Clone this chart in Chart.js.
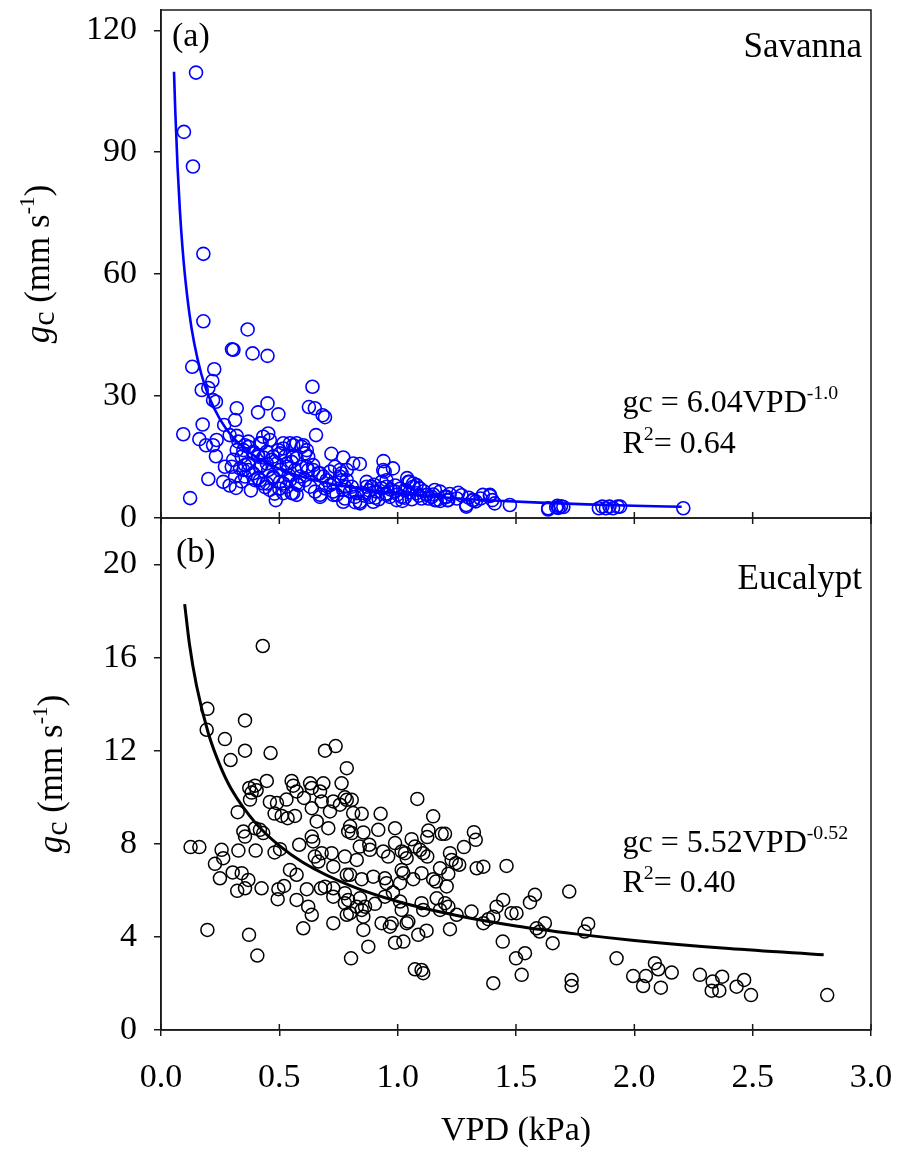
<!DOCTYPE html>
<html><head><meta charset="utf-8">
<script src="https://cdn.jsdelivr.net/npm/chart.js@4.4.0/dist/chart.umd.min.js"></script>
<style>html,body{margin:0;padding:0;background:#fff}canvas{display:block}</style>
</head><body>
<canvas id="c" width="898" height="1150"></canvas>
<script>
const FONT = '"Liberation Serif", "Times New Roman", serif';
const AXIS = '#1a1a1a';
const BLUE = '#0000ff';

// ---- tick values / labels ----
const xTicks = [0, 0.5, 1.0, 1.5, 2.0, 2.5, 3.0];
const xTickLabels = ['0.0', '0.5', '1.0', '1.5', '2.0', '2.5', '3.0'];
const topTicks = [0, 30, 60, 90, 120];
const botTicks = [0, 4, 8, 12, 16, 20];

// ---- panel (a) Savanna: [VPD, gc] ----
const savanna = [
[0.148,109.6],[0.097,95.0],[0.135,86.5],[0.179,65.0],[0.179,48.4],[0.366,46.4],[0.300,41.5],[0.306,41.4],
[0.387,40.5],[0.450,39.9],[0.640,32.3],[0.132,37.2],[0.225,36.6],[0.217,33.7],[0.172,31.5],[0.200,32.0],
[0.220,29.0],[0.232,28.6],[0.320,27.0],[0.450,28.2],[0.410,26.0],[0.496,25.5],[0.625,27.3],[0.650,27.0],
[0.683,25.3],[0.693,24.8],[0.094,20.6],[0.176,23.0],[0.162,19.4],[0.190,17.9],[0.220,17.9],[0.235,19.2],
[0.232,15.2],[0.270,12.6],[0.200,9.6],[0.263,8.9],[0.317,7.4],[0.123,4.9],[0.313,24.1],[0.267,22.9],
[0.485,4.4],[0.655,20.4],[0.320,20.2],[0.720,15.8],[0.770,14.9],[0.840,13.3],[0.940,14.0],[0.945,11.4],
[0.980,12.2],[1.040,9.8],[1.045,8.9],[1.066,8.5],[1.094,7.3],[1.157,6.9],[1.157,4.4],[1.214,4.4],
[1.256,6.2],[1.290,2.8],[1.320,4.4],[1.360,5.7],[1.390,5.4],[1.410,3.6],[1.400,4.4],[1.474,3.2],
[1.636,2.1],[1.670,2.6],[1.636,2.4],[1.675,3.0],[1.680,2.5],[1.690,2.9],[1.700,2.7],[1.850,2.4],
[1.865,2.8],[1.880,2.4],[1.895,2.8],[1.910,2.4],[1.930,2.8],[1.940,2.8],[2.207,2.4],
[0.290,20.4],[0.327,18.8],[0.355,17.9],[0.369,18.8],[0.432,20.0],[0.453,20.8],[0.460,19.2],[0.425,18.4],
[0.517,17.1],[0.545,18.4],[0.559,17.9],[0.601,17.9],[0.616,16.7],[0.622,15.1],[0.320,16.7],[0.341,15.1],
[0.305,14.3],[0.355,13.0],[0.334,12.2],[0.369,11.8],[0.390,16.3],[0.410,15.5],[0.432,14.9],[0.447,16.3],
[0.468,14.3],[0.489,13.4],[0.418,12.6],[0.453,11.8],[0.503,15.9],[0.524,15.1],[0.552,13.8],[0.573,14.7],
[0.594,12.6],[0.531,12.6],[0.566,11.8],[0.622,11.8],[0.643,13.0],[0.665,11.0],[0.686,10.2],[0.714,11.4],
[0.735,12.6],[0.756,11.8],[0.299,12.6],[0.313,10.2],[0.355,10.2],[0.390,11.0],[0.410,9.8],[0.432,8.5],
[0.474,9.8],[0.503,8.9],[0.531,7.7],[0.552,6.1],[0.573,5.7],[0.580,8.1],[0.460,6.9],[0.517,6.1],
[0.608,9.3],[0.630,7.7],[0.651,6.5],[0.672,5.7],[0.693,7.3],[0.714,8.1],[0.727,6.5],[0.742,5.7],
[0.763,9.3],[0.777,7.7],[0.799,6.5],[0.820,5.2],[0.770,4.0],[0.840,4.0],[0.855,6.1],[0.869,7.7],
[0.883,5.2],[0.897,4.0],[0.911,6.5],[0.932,7.3],[0.953,5.7],[0.939,11.8],[0.953,9.3],[0.763,11.0],
[0.785,9.3],[0.806,7.7],[0.827,6.1],[0.777,4.8],[0.820,3.9],[0.841,3.6],[0.869,8.9],[0.890,7.7],
[0.905,5.0],[0.932,8.9],[0.953,7.7],[0.967,5.2],[0.989,6.5],[0.996,4.4],[1.017,5.2],[1.031,6.9],
[1.066,7.7],[1.080,6.1],[1.101,4.8],[1.122,5.7],[1.144,5.2],[1.165,4.4],[1.179,6.5],[1.207,5.2],
[0.348,16.7],[0.369,17.5],[0.390,15.9],[0.418,18.4],[0.411,15.1],[0.369,13.4],[0.348,11.8],[0.425,13.0],
[0.447,13.4],[0.474,15.1],[0.496,16.7],[0.517,18.4],[0.573,18.4],[0.594,17.5],[0.608,15.9],[0.559,15.1],
[0.531,13.4],[0.503,11.8],[0.474,10.2],[0.447,8.5],[0.418,9.3],[0.397,9.3],[0.517,8.5],[0.545,9.3],
[0.573,8.5],[0.587,10.2],[0.616,12.6],[0.643,11.8],[0.672,11.0],[0.700,9.3],[0.728,8.5],[0.756,10.2],
[0.785,11.8],[0.812,13.4],[0.559,6.1],[0.672,5.2],[0.728,5.7],[0.770,6.9],[1.050,8.9],[1.080,8.1],
[1.200,5.2],[1.210,4.4],[1.290,3.2],[1.317,4.4],[1.390,5.7],
[0.860,5.5],[0.880,6.8],[0.900,8.2],[0.920,4.6],[0.950,6.0],[0.970,7.0],[0.990,8.0],[1.000,5.8],
[1.010,7.2],[1.020,4.2],[1.030,5.0],[1.050,6.3],[1.060,4.6],[1.090,5.5],[1.110,6.6],[1.130,4.8],
[1.150,5.8],[1.180,4.2],[1.220,5.9],[1.250,4.8],[1.270,5.6],[1.300,5.0],[1.330,4.1],[1.350,4.8],
[0.290,8.0],[0.340,9.0],[0.380,6.8],[0.440,7.6],[0.480,6.0],[0.500,7.2],[0.540,10.5]
];

// ---- panel (b) Eucalypt: [VPD, gc] ----
const eucalypt = [
[0.430,16.5],[0.196,13.8],[0.193,12.9],[0.355,13.3],[0.270,12.5],[0.355,12.0],[0.294,11.6],[0.463,11.9],
[0.693,12.0],[0.738,12.2],[0.785,11.25],[0.447,10.7],[0.373,10.4],[0.397,10.5],[0.404,10.3],[0.383,10.2],
[0.376,9.9],[0.552,10.7],[0.559,10.5],[0.573,10.25],[0.630,10.6],[0.637,10.4],[0.672,10.25],[0.686,10.6],
[0.763,10.6],[0.324,9.36],[0.460,9.8],[0.490,9.75],[0.530,9.9],[0.480,9.3],[0.510,9.2],[0.535,9.1],
[0.566,9.2],[0.604,9.97],[0.637,9.53],[0.658,8.96],[0.679,9.82],[0.707,8.67],[0.714,9.39],[0.728,9.82],
[0.756,9.68],[0.777,10.0],[0.785,9.89],[0.806,9.89],[0.791,8.53],[0.799,8.75],[0.812,9.32],[0.348,8.53],
[0.355,8.31],[0.397,8.67],[0.418,8.6],[0.432,8.46],[0.125,7.86],[0.162,7.86],[0.256,7.74],[0.263,7.38],
[0.228,7.14],[0.249,6.52],[0.327,7.71],[0.400,7.71],[0.480,7.63],[0.503,7.77],[0.584,7.96],[0.637,8.31],
[0.643,8.1],[0.650,7.45],[0.665,7.24],[0.679,7.6],[0.721,7.6],[0.728,7.02],[0.777,7.45],[0.785,6.67],
[0.799,6.67],[0.827,7.31],[0.303,6.77],[0.341,6.74],[0.369,6.45],[0.322,5.98],[0.355,6.09],[0.425,6.09],
[0.496,6.05],[0.520,6.19],[0.545,6.88],[0.573,6.67],[0.493,5.62],[0.573,5.59],[0.616,6.05],[0.622,5.3],
[0.637,4.95],[0.601,4.37],[0.676,6.09],[0.693,6.16],[0.728,6.09],[0.728,5.73],[0.728,4.59],[0.777,5.45],
[0.785,4.95],[0.799,5.02],[0.827,5.3],[0.196,4.3],[0.372,4.09],[0.407,3.2],[0.803,3.08],
[1.083,9.93],[0.848,9.29],[0.928,9.29],[1.150,9.18],[0.806,8.46],[0.855,8.49],[0.918,8.6],[0.989,8.67],
[1.130,8.57],[1.125,8.29],[1.186,8.43],[1.200,8.43],[1.322,8.5],[1.330,8.17],[0.840,7.88],[0.880,7.96],
[0.883,7.74],[0.939,7.67],[0.960,7.45],[0.989,8.03],[1.017,7.67],[1.031,7.6],[1.038,7.38],[1.059,8.2],
[1.073,7.88],[1.094,7.74],[1.108,7.6],[1.125,7.45],[1.221,7.6],[1.228,7.31],[1.246,7.17],[1.260,7.1],
[1.280,7.86],[1.334,6.95],[1.362,7.02],[1.460,7.05],[0.848,6.48],[0.897,6.59],[0.946,6.52],[0.953,6.31],
[1.010,6.31],[1.024,6.74],[1.017,6.88],[1.066,6.48],[1.101,6.74],[1.150,6.48],[1.162,6.38],[1.179,6.95],
[1.214,6.71],[1.207,6.17],[0.777,5.88],[0.791,5.59],[0.841,5.66],[0.862,5.3],[0.904,5.42],[0.946,5.73],
[0.980,5.91],[1.010,5.52],[1.101,5.45],[1.108,5.16],[1.165,5.66],[1.179,5.16],[1.200,5.45],[1.214,5.3],
[1.249,4.95],[1.312,5.09],[1.362,4.59],[1.383,4.76],[1.404,4.87],[1.418,5.3],[1.446,5.59],[1.481,5.02],
[1.502,5.02],[1.559,5.48],[1.580,5.81],[1.587,4.37],[0.848,5.16],[0.855,4.87],[0.855,4.3],[0.932,4.59],
[0.967,4.44],[0.975,4.59],[1.017,5.16],[1.038,4.59],[1.045,4.66],[1.087,4.09],[1.122,4.27],[1.221,4.33],
[0.876,3.58],[0.989,3.75],[1.024,3.8],[1.073,2.61],[1.101,2.58],[1.108,2.44],[1.404,2.01],[1.444,3.8],
[1.500,3.08],[1.538,3.3],[1.524,2.37],[1.725,5.95],[1.600,4.23],[1.622,4.59],[1.655,3.73],[1.735,2.15],
[1.735,1.89],[1.805,4.56],[1.790,4.23],[1.925,3.08],[1.995,2.32],[2.037,1.89],[2.049,2.32],[2.087,2.87],
[2.101,2.61],[2.112,1.82],[2.158,2.47],[2.277,2.37],[2.331,2.08],[2.327,1.69],[2.359,1.69],[2.371,2.29],
[2.432,1.86],[2.464,2.15],[2.493,1.5],[2.815,1.5]
];

// ---- fitted curves ----
const savFitVPD = [0.055,0.06,0.07,0.08,0.09,0.10,0.12,0.14,0.17,0.20,0.25,0.30,0.35,0.40,0.50,0.60,0.70,0.85,1.00,1.20,1.40,1.60,1.80,2.00,2.20];
const savFitGc  = [109.8,100.7,86.3,75.5,67.1,60.4,50.3,43.1,35.5,30.2,24.2,20.1,17.3,15.1,12.1,10.1,8.63,7.11,6.04,5.03,4.31,3.78,3.36,3.02,2.75];
const eucFitVPD = [0.10,0.12,0.15,0.20,0.25,0.30,0.40,0.50,0.60,0.80,1.00,1.25,1.50,1.75,2.00,2.40,2.80];
const eucFitGc  = [18.3,16.6,14.8,12.75,11.35,10.3,8.89,7.92,7.2,6.2,5.52,4.92,4.47,4.13,3.85,3.50,3.23];

// ---- texts ----
const panelA = '(a)', panelB = '(b)';
const siteA = 'Savanna', siteB = 'Eucalypt';
const eqA = ['gc = 6.04VPD', '-1.0', '0.64'];
const eqB = ['gc = 5.52VPD', '-0.52', '0.40'];
const xTitle = 'VPD (kPa)';

const pts = arr => arr.map(p => ({x: p[0], y: p[1]}));
const zip = (xs, ys) => xs.map((x, i) => ({x, y: ys[i]}));

function drawRich(ctx, x, y, segs, size, align) {
  let w = 0;
  const parts = segs.map(s => {
    const fs = s.sup ? size * 0.62 : (s.sub ? size * 0.92 : size);
    const f = (s.it ? 'italic ' : '') + fs + 'px ' + FONT;
    ctx.font = f;
    const mw = ctx.measureText(s.t).width;
    const p = {t: s.t, f, dx: w, dy: s.sup ? -size * 0.42 : (s.sub ? size * 0.14 : 0)};
    w += mw;
    return p;
  });
  const x0 = align === 'center' ? x - w / 2 : (align === 'right' ? x - w : x);
  ctx.textAlign = 'left';
  ctx.textBaseline = 'alphabetic';
  for (const p of parts) { ctx.font = p.f; ctx.fillText(p.t, x0 + p.dx, y + p.dy); }
}

const yTitleSegs = [{t: 'g', it: true}, {t: 'c', sub: true}, {t: ' (mm s'}, {t: '-1', sup: true}, {t: ')'}];

const zeroPad = s => { s.paddingTop = 0; s.paddingBottom = 0; s.paddingLeft = 0; s.paddingRight = 0; };

const panelPlugin = {
  id: 'panels',
  afterDraw(chart) {
    const {ctx, chartArea: ca, scales} = chart;
    const yt = scales.yTop, yb = scales.yBot, xs = scales.x;
    ctx.save();
    ctx.strokeStyle = AXIS;
    ctx.lineWidth = 1.5;
    ctx.strokeRect(ca.left, yt.top, ca.right - ca.left, yt.bottom - yt.top);
    ctx.strokeRect(ca.left, yb.top, ca.right - ca.left, yb.bottom - yb.top);
    ctx.beginPath();
    for (const v of xTicks) {
      const px = xs.getPixelForValue(v);
      ctx.moveTo(px, yb.bottom - 6); ctx.lineTo(px, yb.bottom);
      ctx.moveTo(px, yt.bottom - 6); ctx.lineTo(px, yt.bottom + 6);
    }
    ctx.stroke();

    ctx.fillStyle = '#000';
    drawRich(ctx, ca.left + 11, yt.top + 36, [{t: panelA}], 34, 'left');
    drawRich(ctx, ca.right - 9, yt.top + 47, [{t: siteA}], 35, 'right');
    drawRich(ctx, ca.left + 15, yb.top + 44, [{t: panelB}], 34, 'left');
    drawRich(ctx, ca.right - 9, yb.top + 71, [{t: siteB}], 35, 'right');
    const ex = xs.getPixelForValue(1.95);
    drawRich(ctx, ex, yt.top + 402, [{t: eqA[0]}, {t: eqA[1], sup: true}], 32, 'left');
    drawRich(ctx, ex, yt.top + 443, [{t: 'R'}, {t: '2', sup: true}, {t: '= ' + eqA[2]}], 32, 'left');
    drawRich(ctx, ex, yb.top + 334, [{t: eqB[0]}, {t: eqB[1], sup: true}], 32, 'left');
    drawRich(ctx, ex, yb.top + 374, [{t: 'R'}, {t: '2', sup: true}, {t: '= ' + eqB[2]}], 32, 'left');

    const drawYTitle = (cx, cy) => {
      ctx.save();
      ctx.translate(cx, cy);
      ctx.rotate(-Math.PI / 2);
      drawRich(ctx, 0, 0, yTitleSegs, 35, 'center');
      ctx.restore();
    };
    drawYTitle(49, (yt.top + yt.bottom) / 2);
    drawYTitle(62, (yb.top + yb.bottom) / 2);
    ctx.restore();
  }
};

const tickFont = {family: FONT, size: 34};

new Chart(document.getElementById('c'), {
  type: 'scatter',
  data: {
    datasets: [
      {data: zip(savFitVPD, savFitGc), yAxisID: 'yTop', showLine: true, pointRadius: 0, borderColor: BLUE, borderWidth: 2.6, cubicInterpolationMode: 'monotone', fill: false},
      {data: zip(eucFitVPD, eucFitGc), yAxisID: 'yBot', showLine: true, pointRadius: 0, borderColor: '#000', borderWidth: 3, cubicInterpolationMode: 'monotone', fill: false},
      {data: pts(savanna), yAxisID: 'yTop', pointStyle: 'circle', pointRadius: 6.5, borderColor: BLUE, backgroundColor: 'rgba(0,0,0,0)', pointBorderWidth: 1.6, borderWidth: 1.6},
      {data: pts(eucalypt), yAxisID: 'yBot', pointStyle: 'circle', pointRadius: 6.5, borderColor: '#000', backgroundColor: 'rgba(0,0,0,0)', pointBorderWidth: 1.5, borderWidth: 1.5}
    ]
  },
  options: {
    responsive: false,
    animation: false,
    devicePixelRatio: 1,
    layout: {padding: {top: 10, right: 27, left: 0, bottom: 0}},
    plugins: {legend: {display: false}, tooltip: {enabled: false}},
    scales: {
      x: {
        type: 'linear', position: 'bottom', min: 0, max: 3,
        afterBuildTicks: s => { s.ticks = xTicks.map(v => ({value: v})); },
        afterFit: s => { s.height = 120; zeroPad(s); },
        ticks: {callback: (v) => xTickLabels[xTicks.indexOf(v)], font: tickFont, color: '#000', padding: 22, maxRotation: 0, autoSkip: false},
        grid: {drawOnChartArea: false, drawTicks: true, tickLength: 6, color: AXIS, lineWidth: 1.5},
        border: {display: true, color: AXIS, width: 1.5},
        title: {display: true, text: xTitle, font: {family: FONT, size: 34, lineHeight: 1}, color: '#000', padding: {top: 0, bottom: 2}}
      },
      yBot: {
        type: 'linear', position: 'left', stack: 'panels', stackWeight: 512, min: 0, max: 22,
        afterBuildTicks: s => { s.ticks = botTicks.map(v => ({value: v})); },
        afterFit: s => { s.width = 161; zeroPad(s); },
        ticks: {font: tickFont, color: '#000', padding: 17},
        grid: {drawOnChartArea: false, drawTicks: true, tickLength: 7, color: AXIS, lineWidth: 1.5},
        border: {display: true, color: AXIS, width: 1.5}
      },
      yTop: {
        type: 'linear', position: 'left', stack: 'panels', stackWeight: 508, min: 0, max: 125,
        afterBuildTicks: s => { s.ticks = topTicks.map(v => ({value: v})); },
        afterFit: s => { s.width = 161; zeroPad(s); },
        ticks: {font: tickFont, color: '#000', padding: 17},
        grid: {drawOnChartArea: false, drawTicks: true, tickLength: 7, color: AXIS, lineWidth: 1.5},
        border: {display: true, color: AXIS, width: 1.5}
      }
    }
  },
  plugins: [panelPlugin]
});
</script>
</body></html>
